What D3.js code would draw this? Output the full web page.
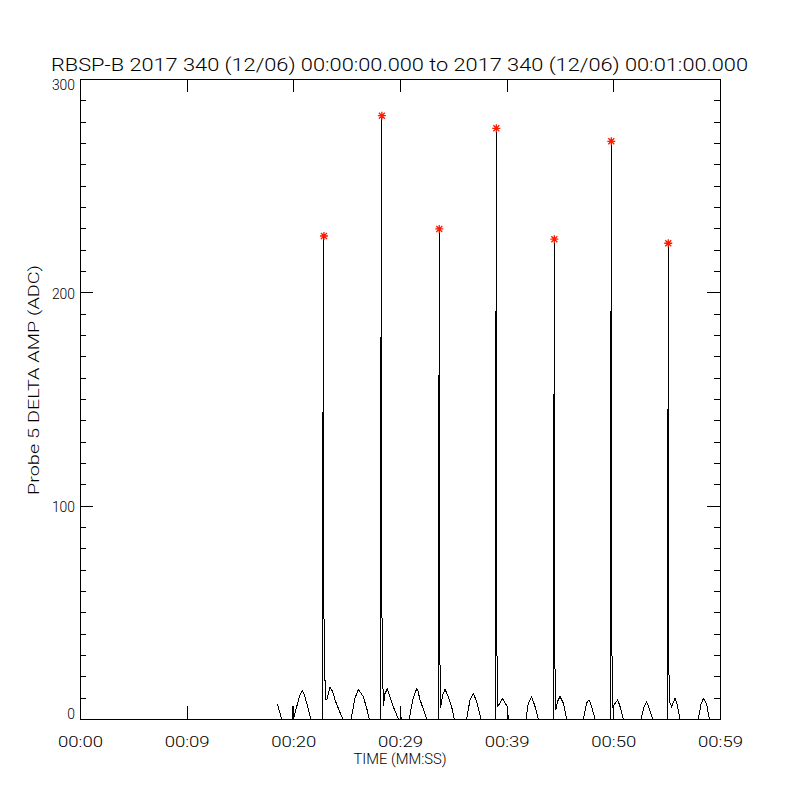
<!DOCTYPE html>
<meta charset="utf-8">
<script src="https://d3js.org/d3.v7.min.js"></script>
<style>
  body { margin: 0; background: #fff; }
  text { font-family: Roboto, "Liberation Sans", Arial, sans-serif; font-weight: 300; fill: #000; }
</style>

<div id="chart"></div>

<script>
// texts
var titleText = "RBSP-B 2017 340 (12/06) 00:00:00.000 to 2017 340 (12/06) 00:01:00.000";
var xTitle = "TIME (MM:SS)";
var yTitle = "Probe 5 DELTA AMP (ADC)";

// x ticks in seconds, with the labels printed under them
var xTickValues = [0, 10, 20, 30, 40, 50, 60];
var xTickLabels = ["00:00", "00:09", "00:20", "00:29", "00:39", "00:50", "00:59"];
var yTickValues = [0, 100, 200, 300];
var yMinorValues = [10, 20, 30, 40, 50, 60, 70, 80, 90, 110, 120, 130, 140, 150, 160, 170, 180, 190,
                    210, 220, 230, 240, 250, 260, 270, 280, 290];

// the trace, [seconds, ADC]
var trace = [
  [18.50, 7], [18.91, 0],
  [19.91, 0], [19.94, 6], [19.99, 0],
  [20.02, 0], [20.32, 5.8], [20.56, 10.5], [20.84, 13.3], [21.03, 11.4], [21.25, 7.5], [21.63, 0],
  [22.78, 0], [22.78, 143.5], [22.87, 143.5], [22.87, 226.4], [22.87, 48.8], [23.00, 9],
  [23.13, 8.9], [23.44, 14.8], [23.69, 12.8], [23.91, 8.9], [24.22, 5], [24.63, 0],
  [25.41, 0], [25.78, 9.7], [26.09, 13.9], [26.56, 10.5], [26.88, 5], [27.12, 0],
  [28.21, 0], [28.21, 179], [28.30, 179], [28.30, 282.8], [28.30, 52], [28.43, 6],
  [28.59, 11.9], [28.81, 14.2], [29.06, 10.5], [29.37, 5.8], [29.84, 0],
  [30.04, 0], [30.07, 6], [30.10, 0],
  [30.87, 0], [31.19, 8.9], [31.56, 14.2], [31.69, 13], [31.88, 9], [32.50, 0],
  [33.59, 0], [33.59, 161], [33.68, 161], [33.68, 229.7], [33.68, 55], [33.80, 5],
  [34.00, 11.3], [34.22, 13.9], [34.53, 10.5], [34.84, 5.8], [35.09, 0],
  [36.25, 0], [36.56, 8.9], [36.87, 12], [37.19, 8.2], [37.59, 0],
  [38.94, 0], [38.94, 191], [39.03, 191], [39.03, 276.9], [39.03, 53], [39.16, 6],
  [39.38, 7.5], [39.63, 9.7], [39.84, 7.5], [40.06, 6], [40.16, 0],
  [41.81, 0], [42.03, 7.5], [42.34, 10.5], [42.66, 5.8], [42.97, 0],
  [44.38, 0], [44.38, 152], [44.47, 152], [44.47, 224.9], [44.47, 41], [44.60, 4],
  [44.75, 8], [45.00, 10.5], [45.31, 7.5], [45.63, 0],
  [47.19, 0], [47.50, 7.5], [47.72, 9], [47.97, 5.8], [48.28, 0],
  [49.72, 0], [49.72, 191], [49.81, 191], [49.81, 270.8], [49.81, 55], [49.94, 5.8],
  [50.41, 9], [50.63, 5.8], [50.94, 0],
  [52.59, 0], [52.88, 5.8], [53.13, 8], [53.37, 5], [53.69, 0],
  [55.06, 0], [55.06, 145], [55.15, 145], [55.15, 223], [55.15, 35], [55.28, 8],
  [55.47, 5.8], [55.78, 9.7], [55.97, 7], [56.25, 0],
  [57.97, 0], [58.22, 7], [58.44, 9.7], [58.75, 7], [59.00, 0],
  [60.00, 0]
];

// the red asterisks on top of every pulse
var peakTimes = [22.87, 28.30, 33.68, 39.03, 44.47, 49.81, 55.15];
var peakValues = [226.4, 282.8, 229.7, 276.9, 224.9, 270.8, 223.0];

// plot box
var plot = {left: 80, top: 79, right: 720, bottom: 719};

var svg = d3.select("#chart")
  .append("svg")
    .attr("width", 800)
    .attr("height", 800);

var x = d3.scaleLinear()
  .domain([0, 60])
  .range([plot.left, plot.right]);

var y = d3.scaleLinear()
  .domain([0, 300])
  .range([plot.bottom, plot.top]);

// ticks point inward on all four sides, like IDL
function tickGroup(axis, tx, ty) {
  var g = svg.append("g")
    .attr("transform", "translate(" + tx + "," + ty + ")")
    .attr("shape-rendering", "crispEdges")
    .call(axis);
  g.select(".domain").remove();
  g.selectAll(".tick line").attr("stroke", "#000");
  return g;
}

tickGroup(d3.axisBottom(x).tickValues(xTickValues).tickSize(-13).tickFormat(""), 0, plot.bottom);
tickGroup(d3.axisTop(x).tickValues(xTickValues).tickSize(-13).tickFormat(""), 0, plot.top);
tickGroup(d3.axisLeft(y).tickValues(yTickValues).tickSize(-13).tickFormat(""), plot.left, 0);
tickGroup(d3.axisRight(y).tickValues(yTickValues).tickSize(-13).tickFormat(""), plot.right, 0);
tickGroup(d3.axisLeft(y).tickValues(yMinorValues).tickSize(-6).tickFormat(""), plot.left, 0);
tickGroup(d3.axisRight(y).tickValues(yMinorValues).tickSize(-6).tickFormat(""), plot.right, 0);

// frame
svg.append("rect")
  .attr("x", plot.left + 0.5)
  .attr("y", plot.top + 0.5)
  .attr("width", plot.right - plot.left)
  .attr("height", plot.bottom - plot.top)
  .attr("fill", "none")
  .attr("stroke", "#000")
  .attr("shape-rendering", "crispEdges");

// tick labels
svg.append("g")
  .selectAll("text")
  .data(xTickValues)
  .enter().append("text")
    .attr("x", function(d) { return x(d) + 0.5; })
    .attr("y", 747)
    .attr("text-anchor", "middle")
    .attr("textLength", 45)
    .attr("lengthAdjust", "spacingAndGlyphs")
    .style("font-size", "14px")
    .text(function(d, i) { return xTickLabels[i]; });

svg.append("g")
  .selectAll("text")
  .data(yTickValues)
  .enter().append("text")
    .attr("x", plot.left - 5)
    .attr("y", function(d) {
      // IDL keeps the end labels inside the box height
      var c = y(d) + 1.5;
      return Math.min(Math.max(c, plot.top + 6), plot.bottom - 5);
    })
    .attr("dy", "0.36em")
    .attr("text-anchor", "end")
    .attr("textLength", function(d) { return String(d).length * 7.7; })
    .attr("lengthAdjust", "spacingAndGlyphs")
    .style("font-size", "14px")
    .text(function(d) { return d; });

// titles
svg.append("text")
  .attr("x", 399.5)
  .attr("y", 71)
  .attr("text-anchor", "middle")
  .attr("textLength", 697)
  .attr("lengthAdjust", "spacingAndGlyphs")
  .style("font-size", "18px")
  .text(titleText);

svg.append("text")
  .attr("x", 400)
  .attr("y", 764)
  .attr("text-anchor", "middle")
  .attr("textLength", 93)
  .attr("lengthAdjust", "spacingAndGlyphs")
  .style("font-size", "15px")
  .text(xTitle);

svg.append("text")
  .attr("transform", "translate(39,380) rotate(-90)")
  .attr("text-anchor", "middle")
  .attr("textLength", 230)
  .attr("lengthAdjust", "spacingAndGlyphs")
  .style("font-size", "14px")
  .text(yTitle);

// the trace
var line = d3.line()
  .x(function(d) { return x(d[0]); })
  .y(function(d) { return y(d[1]); });

svg.append("path")
  .datum(trace)
  .attr("d", line)
  .attr("fill", "none")
  .attr("stroke", "#000")
  .attr("stroke-width", 1)
  .attr("shape-rendering", "crispEdges");

// asterisks (plus and cross over each other)
var star = "M-4,0L4,0M0,-4L0,4M-3,-3L3,3M-3,3L3,-3";

svg.append("g")
  .selectAll("path")
  .data(peakTimes)
  .enter().append("path")
    .attr("transform", function(d, i) { return "translate(" + x(d) + "," + y(peakValues[i]) + ")"; })
    .attr("d", star)
    .attr("fill", "none")
    .attr("stroke", "#ff1a00")
    .attr("stroke-width", 1.3);
</script>
